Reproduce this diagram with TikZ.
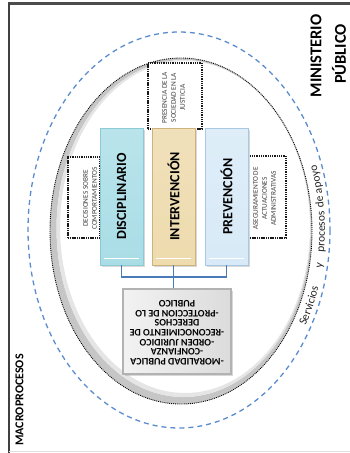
\documentclass[tikz,border=0pt]{standalone}
\usepackage{graphicx}
\usepackage{fontspec}
\setmainfont{Carlito}
\usetikzlibrary{shadows,decorations.text}
\definecolor{dashblue}{HTML}{5B8CCF}
\definecolor{linkblue}{HTML}{4A7AB8}
\definecolor{discA}{HTML}{A9DDE6}
\definecolor{discB}{HTML}{8CCBD6}
\definecolor{intA}{HTML}{EEDBAE}
\definecolor{intB}{HTML}{CDB27E}
\definecolor{prevA}{HTML}{D8EAF7}
\definecolor{prevB}{HTML}{A9C9E3}
\begin{document}
\begin{tikzpicture}[x=1pt,y=-1pt,
  colbox/.style={rectangle, minimum width=43pt, minimum height=137pt, inner sep=0pt,
    line width=0.8pt, font=\fontsize{14}{16}\selectfont\bfseries,
    drop shadow={shadow xshift=1.8pt, shadow yshift=-1.8pt, opacity=0.3}},
  dotbox/.style={rectangle, draw=black!90, line width=1.4pt, dash pattern=on 1.1pt off 0.7pt,
    fill=white, inner sep=0pt},
  boxtxt/.style={rotate=90, align=center, inner sep=0pt, font=\fontsize{7.3}{9}\selectfont, text=black!75},
  link/.style={draw=linkblue, line width=1.3pt},
  bigtitle/.style={rotate=90, inner sep=0pt, font=\fontsize{16.5}{18}\selectfont\bfseries, text=black},
  arctext/.style={decorate, decoration={text along path, text={|\fontsize{11.5}{13}\selectfont\color{black!85}|#1}}},
]
\useasboundingbox (0,0) rectangle (350,453);
\fill[white] (0,0) rectangle (350,453);
% frame
\draw[line width=2.5pt, black!70] (8,3.5) -- (350,3.5);
\draw[line width=2pt, black!75] (9,3) -- (9,453);
\draw[line width=0.8pt, gray!25] (9,451.5) -- (350,451.5);

% ellipses
\draw[dashblue, line width=1.3pt, dash pattern=on 5pt off 4pt] (179,230) ellipse [x radius=151, y radius=198];
\fill[gray!45, even odd rule] (181,231) ellipse [x radius=131, y radius=173]
      (183.5,228.5) ellipse [x radius=127, y radius=168.5];
\fill[gray!20, even odd rule] (183.5,228.5) ellipse [x radius=127, y radius=168.5]
      (185,227) ellipse [x radius=125, y radius=166];
\draw[black, line width=0.9pt, densely dotted] (181,231) ellipse [x radius=131, y radius=173];

% curved label
\path[arctext={Servicios}] ([shift={(29.8:146 and 193)}]179,230) arc[start angle=29.8, end angle=12, x radius=146, y radius=193];
\path[arctext={y}] ([shift={(11.4:146 and 193)}]179,230) arc[start angle=11.4, end angle=5, x radius=146, y radius=193];
\path[arctext={procesos}] ([shift={(6.8:146 and 193)}]179,230) arc[start angle=6.8, end angle=-10, x radius=146, y radius=193];
\path[arctext={de}] ([shift={(-6.8:146 and 193)}]179,230) arc[start angle=-6.8, end angle=-14, x radius=146, y radius=193];
\path[arctext={apoyo}] ([shift={(-11:146 and 193)}]179,230) arc[start angle=-11, end angle=-30, x radius=146, y radius=193];

% dotted side boxes
\node[dotbox, minimum width=32pt, minimum height=81pt] (decbox) at (84,197.5) {};
\node[dotbox, minimum width=54pt, minimum height=66pt] (presbox) at (175,96) {};
\node[dotbox, minimum width=38pt, minimum height=82pt] (asebox) at (267,197) {};
\node[boxtxt] (dect) at (90,198.5) {DECISIONES SOBRE\\COMPORTAMIENTOS};
\node[boxtxt] (prest) at (173.5,97.5) {PRESENCIA DE LA\\SOCIEDAD EN LA\\JUSTICIA};
\node[boxtxt] (aset) at (264.5,198.5) {ASEGURAMIENTO DE\\ACTUACIONES\\ADMINISTRATIVAS};

% main boxes
\node[colbox, top color=discA!80, bottom color=discA, draw=discB] (d) at (121.5,196.5) {\rotatebox{90}{DISCIPLINARIO}};
\node[colbox, top color=intA!85, bottom color=intA, draw=intB] (i) at (173.5,196.5) {\rotatebox{90}{INTERVENCIÓN}};
\node[colbox, top color=prevA!85, bottom color=prevA, draw=prevB] (p) at (226.5,196.5) {\rotatebox{90}{PREVENCIÓN}};
\foreach \b in {d,i,p}{
  \draw[white, line width=1pt] ([xshift=4pt,yshift=6.5pt]\b.south west) -- ([xshift=-4pt,yshift=6.5pt]\b.south east);
}

% bottom box
\node[rectangle, draw=gray!60, line width=2.5pt, left color=gray!10, right color=gray!28,
      minimum width=108pt, minimum height=85pt, inner sep=0pt,
      drop shadow={shadow xshift=1.5pt, shadow yshift=-1.5pt, opacity=0.3}] (m) at (177,331.5)
  {\rotatebox{180}{\fontsize{10}{9.6}\selectfont\bfseries\color{black}\begin{tabular}{@{}c@{}}-MORALIDAD PUBLICA\\-CONFIANZA\\-ORDEN JURIDICO\\-RECONOCIMIENTO DE\\DERECHOS\\-PROTECCION DE LO\\PUBLICO\end{tabular}}};

% connectors
\coordinate (j) at (173.5,277);
\draw[link] (d.south) |- (j);
\draw[link] (p.south) |- (j);
\draw[link] (i.south) -- (i.south |- m.north);

% titles
\node[bigtitle] (min) at (316,56) {MINISTERIO};
\node[bigtitle] (pub) at (339,54) {PÚBLICO};
\node[rotate=90, inner sep=0pt, font=\fontsize{12}{14}\selectfont\bfseries, text=black] (macro) at (19.5,400) {MACROPROCESOS};
\end{tikzpicture}
\end{document}
